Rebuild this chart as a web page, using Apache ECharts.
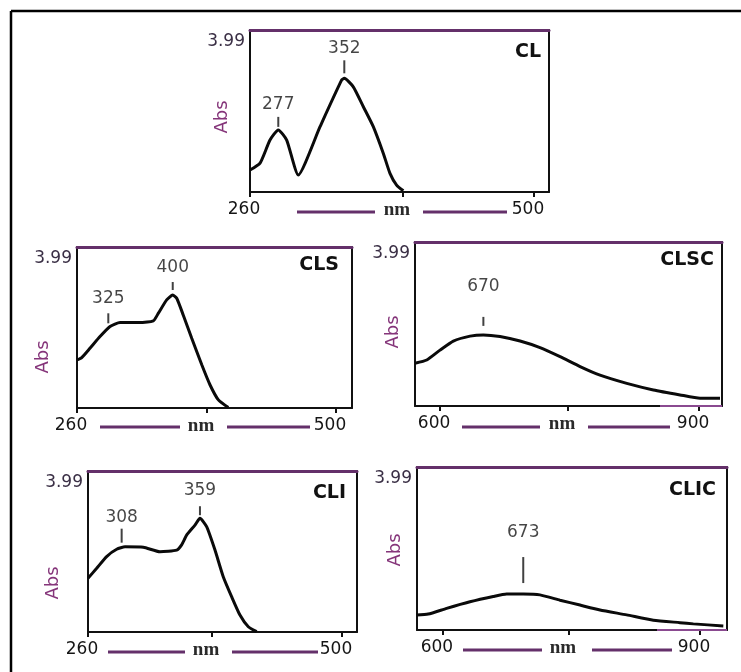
<!DOCTYPE html>
<html><head><meta charset="utf-8">
<script src="https://cdn.jsdelivr.net/npm/echarts@6/dist/echarts.min.js"></script>
<style>html,body{margin:0;padding:0;background:#fff}#c{width:741px;height:672px}</style>
</head><body><div id="c"></div>
<script>
// ---------- DATA ----------
const panelNames = ['CL', 'CLS', 'CLSC', 'CLI', 'CLIC'];

const clNm  = [260, 268.5, 276.9, 283.9, 291.0, 300.8, 319.2, 337.5, 339.7, 347.3, 355.8, 364.2, 372.7, 378.3, 383.9, 389.6];
const clAbs = [0.54, 0.71, 1.28, 1.53, 1.28, 0.42, 1.61, 2.76, 2.80, 2.59, 2.10, 1.61, 0.95, 0.46, 0.17, 0.03];

const clsNm  = [260, 264.4, 272.0, 281.3, 290.6, 299.9, 315.3, 330.7, 335.4, 343.1, 348.7, 352.4, 358.5, 366.3, 375.6, 383.3, 391.0, 400.2];
const clsAbs = [1.19, 1.25, 1.48, 1.77, 2.02, 2.12, 2.12, 2.16, 2.35, 2.68, 2.80, 2.72, 2.30, 1.73, 1.07, 0.57, 0.20, 0.01];

const clscNm  = [571.0, 584.6, 600, 615.4, 634.8, 650.2, 669.5, 692.7, 715.8, 739.0, 762.2, 785.3, 816.3, 847.1, 878.0, 901.2, 924.3];
const clscAbs = [1.04, 1.12, 1.36, 1.58, 1.70, 1.73, 1.69, 1.58, 1.42, 1.20, 0.96, 0.75, 0.55, 0.39, 0.27, 0.19, 0.19];

const cliNm  = [260, 268.2, 277.6, 287.1, 295.0, 312.3, 328.0, 343.8, 348.5, 353.2, 361.1, 365.8, 372.1, 380.0, 387.8, 395.8, 403.6, 411.5, 419.4];
const cliAbs = [1.33, 1.58, 1.87, 2.05, 2.11, 2.10, 1.99, 2.03, 2.16, 2.40, 2.65, 2.82, 2.61, 2.03, 1.37, 0.87, 0.42, 0.13, 0.01];

const clicNm  = [569.3, 582.8, 604.3, 631.5, 658.7, 674.3, 693.7, 713.2, 736.6, 759.9, 783.3, 814.4, 845.5, 876.6, 892.2, 927.2];
const clicAbs = [0.37, 0.39, 0.53, 0.69, 0.82, 0.88, 0.88, 0.86, 0.73, 0.61, 0.49, 0.37, 0.24, 0.18, 0.15, 0.10];

const clPeakNm = [283.9, 339.7],  clPeakAbs = [1.53, 2.80],  clPeakLabels = ['277', '352'];
const clsPeakNm = [289.0, 348.7], clsPeakAbs = [2.00, 2.80], clsPeakLabels = ['325', '400'];
const clscPeakNm = [650.2],       clscPeakAbs = [1.73],      clscPeakLabels = ['670'];
const cliPeakNm = [291.8, 365.8], cliPeakAbs = [2.09, 2.82], cliPeakLabels = ['308', '359'];
const clicPeakNm = [693.7],       clicPeakAbs = [0.88],      clicPeakLabels = ['673'];

const xTickValues = [[260, 389.3, 500], [260, 380.5, 500], [600, 748.3, 900], [260, 377.2, 500], [600, 747.1, 900]];
const xTickLabels = [['260', 'nm', '500'], ['260', 'nm', '500'], ['600', 'nm', '900'], ['260', 'nm', '500'], ['600', 'nm', '900']];
const xRanges = [[260, 512.7], [260, 514.8], [571.0, 926.6], [260, 514.2], [569.7, 931.5]];
const yMaxValue = 3.99;
const yTickLabel = '3.99';
const yAxisName = 'Abs';

// ---------- LAYOUT / STYLE ----------
const layout = [
  {left: 250, top: 30,  width: 299, height: 162},
  {left: 77,  top: 247, width: 275, height: 161},
  {left: 415, top: 242, width: 307, height: 164},
  {left: 88,  top: 471, width: 269, height: 161},
  {left: 417, top: 467, width: 310, height: 163}
];
const peakStyles = [
  [{gap: 3, len: 10, dist: 3}, {gap: 5, len: 13, dist: 3}],
  [{gap: 4, len: 10, dist: 6}, {gap: 5, len: 8, dist: 5}],
  [{gap: 9, len: 9, dist: 21}],
  [{gap: 5, len: 14, dist: 2}, {gap: 3, len: 9, dist: 7}],
  [{gap: 11, len: 26, dist: 15}]
];
const absPos = [[222, 117], [43, 357], [393, 332], [53, 583], [395, 550]];
const titlePos = [[541, 52], [339, 265], [714, 260], [346, 493], [716, 490]];
const purpleLines = [
  {y: 212, segs: [[297, 375], [423, 507]]},
  {y: 427, segs: [[100, 180], [227, 310]]},
  {y: 427, segs: [[462, 540], [588, 670]]},
  {y: 652, segs: [[108, 185], [232, 318]]},
  {y: 650, segs: [[463, 542], [592, 672]]}
];
const FONT = 'DejaVu Sans';
const PURPLE = '#64306a';

const curves = [[clNm, clAbs], [clsNm, clsAbs], [clscNm, clscAbs], [cliNm, cliAbs], [clicNm, clicAbs]];
const peaks = [
  [clPeakNm, clPeakAbs, clPeakLabels], [clsPeakNm, clsPeakAbs, clsPeakLabels],
  [clscPeakNm, clscPeakAbs, clscPeakLabels], [cliPeakNm, cliPeakAbs, cliPeakLabels],
  [clicPeakNm, clicPeakAbs, clicPeakLabels]
];

const grids = layout.map(g => ({left: g.left, top: g.top, width: g.width, height: g.height}));

const bottomX = layout.map((g, i) => ({
  gridIndex: i, type: 'value', position: 'bottom', min: xRanges[i][0], max: xRanges[i][1],
  axisLine: {show: true, onZero: false, lineStyle: {color: '#111', width: 2}},
  axisTick: {show: true, inside: false, length: 5, customValues: xTickValues[i], lineStyle: {color: '#111', width: 2}},
  axisLabel: {
    customValues: xTickValues[i],
    formatter: v => {
      const j = xTickValues[i].findIndex(t => Math.abs(t - v) < 1e-6);
      const s = j >= 0 ? xTickLabels[i][j] : '';
      return s === 'nm' ? '{nm|nm}' : s;
    },
    margin: 9, fontFamily: FONT, fontSize: 17, color: '#151515', padding: [0, 12, 0, 0],
    rich: {nm: {fontFamily: 'Liberation Serif', fontWeight: 'bold', fontSize: 19, color: '#2a2a2a'}}
  },
  splitLine: {show: false}
}));
const topX = layout.map((g, i) => ({
  gridIndex: i, type: 'value', position: 'top', min: xRanges[i][0], max: xRanges[i][1],
  axisLine: {show: true, onZero: false, lineStyle: {color: PURPLE, width: 3}},
  axisTick: {show: false}, axisLabel: {show: false}, splitLine: {show: false}
}));
const leftY = layout.map((g, i) => ({
  gridIndex: i, type: 'value', position: 'left', min: 0, max: yMaxValue,
  axisLine: {show: true, onZero: false, lineStyle: {color: '#111', width: 2}},
  axisTick: {show: false},
  axisLabel: {customValues: [yMaxValue], formatter: () => yTickLabel, verticalAlign: 'top', margin: 5,
    fontFamily: FONT, fontSize: 17, color: '#3a2f45', padding: [3, 0, 0, 0]},
  splitLine: {show: false}
}));
const rightY = layout.map((g, i) => ({
  gridIndex: i, type: 'value', position: 'right', min: 0, max: yMaxValue,
  axisLine: {show: true, onZero: false, lineStyle: {color: '#111', width: 2}},
  axisTick: {show: false}, axisLabel: {show: false}, splitLine: {show: false}
}));

const lineSeries = curves.map((c, i) => ({
  type: 'line', xAxisIndex: i, yAxisIndex: i, showSymbol: false, smooth: 0.18, silent: true,
  data: c[0].map((x, k) => [x, c[1][k]]),
  lineStyle: {color: '#0a0a0a', width: 3}, z: 3
}));
const peakSeries = peaks.map((p, i) => ({
  type: 'scatter', xAxisIndex: i, yAxisIndex: i, symbol: 'rect', clip: false, silent: true,
  itemStyle: {color: '#111'},
  data: p[0].map((x, k) => ({
    value: [x, p[1][k]],
    symbolSize: [2, peakStyles[i][k].len],
    symbolOffset: [0, -(peakStyles[i][k].gap + peakStyles[i][k].len / 2)],
    label: {distance: peakStyles[i][k].dist}
  })),
  label: {show: true, position: 'top', formatter: q => p[2][q.dataIndex],
    fontFamily: FONT, fontSize: 17, color: '#161616', lineHeight: 18},
  z: 4
}));

const graphic = [];
graphic.push({type: 'line', shape: {x1: 11, y1: 11, x2: 11, y2: 672}, style: {stroke: '#000', lineWidth: 2.5}});
graphic.push({type: 'line', shape: {x1: 11, y1: 11, x2: 741, y2: 11}, style: {stroke: '#000', lineWidth: 2.5}});
absPos.forEach(p => graphic.push({
  type: 'text', x: p[0], y: p[1], rotation: Math.PI / 2,
  style: {text: yAxisName, fontFamily: FONT, fontSize: 18, fill: '#85357a', align: 'center', verticalAlign: 'middle'}
}));
titlePos.forEach((p, i) => graphic.push({
  type: 'text', x: p[0], y: p[1],
  style: {text: panelNames[i], fontFamily: FONT, fontWeight: 'bold', fontSize: 19, fill: '#111', align: 'right', verticalAlign: 'middle'}
}));
purpleLines.forEach(pl => pl.segs.forEach(s => graphic.push({
  type: 'line', shape: {x1: s[0], y1: pl.y, x2: s[1], y2: pl.y}, style: {stroke: PURPLE, lineWidth: 3}
})));
graphic.push({type: 'line', shape: {x1: 660, y1: 406, x2: 722, y2: 406}, style: {stroke: '#8a4a90', lineWidth: 2}, z: 10});
graphic.push({type: 'line', shape: {x1: 657, y1: 630, x2: 727, y2: 630}, style: {stroke: '#8a4a90', lineWidth: 2}, z: 10});

const chart = echarts.init(document.getElementById('c'), null, {renderer: 'canvas'});
chart.setOption({
  animation: false,
  backgroundColor: '#fff',
  grid: grids,
  xAxis: bottomX.concat(topX),
  yAxis: leftY.concat(rightY),
  series: lineSeries.concat(peakSeries),
  graphic: graphic
});
</script></body></html>
